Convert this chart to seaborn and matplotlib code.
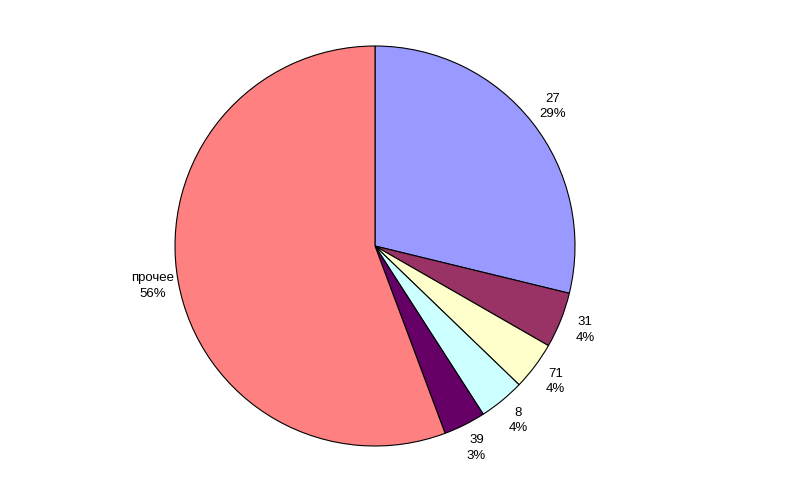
import matplotlib
matplotlib.use("Agg")
import matplotlib.pyplot as plt
import seaborn as sns

categories = ["27", "31", "71", "8", "39", "прочее"]
values = [28.8, 4.5, 3.9, 3.7, 3.4, 55.7]
pct_labels = ["29%", "4%", "4%", "4%", "3%", "56%"]
colors = ["#9999FF", "#993366", "#FFFFCC", "#CCFFFF", "#660066", "#FF8080"]

sns.set_style("white")
plt.rcParams['font.family'] = ['Liberation Sans', 'DejaVu Sans']

fig = plt.figure(figsize=(8, 4.98), dpi=100)
ax = fig.add_axes([175 / 800, 52 / 498, 400 / 800, 400 / 498])
labels = [f"{c}\n{p}" for c, p in zip(categories, pct_labels)]
wedges, texts = ax.pie(values, labels=labels, colors=colors, startangle=90,
                       counterclock=False, labeldistance=1.13,
                       wedgeprops=dict(edgecolor="black", linewidth=0.8),
                       textprops=dict(fontsize=9.5, color="black", ha="center",
                                      va="center", linespacing=1.4))
ax.set_aspect("equal")
ax.set_xlim(-1, 1)
ax.set_ylim(-1, 1)
ax.axis("off")
fig.savefig("out.png", dpi=100, facecolor="white")
